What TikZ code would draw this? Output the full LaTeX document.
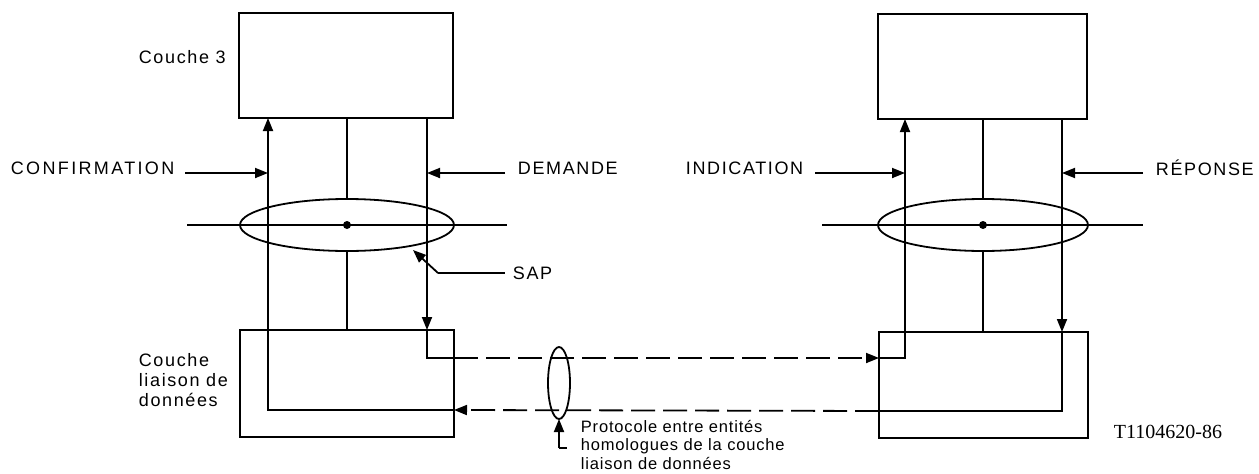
\documentclass[tikz,border=0pt]{standalone}
\usepackage{fontspec}
\setmainfont{Liberation Sans}
\newfontfamily\labfont[LetterSpace=9]{Liberation Sans}
\newfontfamily\wideflabfont[LetterSpace=13]{Liberation Sans}
\newfontfamily\smallfont[LetterSpace=5]{Liberation Sans}
\newfontfamily\reffont{Liberation Serif}
\usetikzlibrary{arrows.meta,shapes.geometric}
\begin{document}
\begin{tikzpicture}[x=1pt,y=-1pt,
  line width=1.8pt,
  box/.style={draw,rectangle,inner sep=0pt,outer sep=0pt},
  sap/.style={draw,ellipse,inner sep=0pt,outer sep=0pt},
  lab/.style={font=\labfont\fontsize{18}{20}\selectfont,inner sep=0pt},
  arr/.style={-{Triangle[length=13pt,width=10pt]}},
  dsh/.style={dash pattern=on 24pt off 8pt}]
\useasboundingbox (0,0) rectangle (1259,474);
% boxes
\node[box,minimum width=214pt,minimum height=105pt] (L3A) at (346,65.5) {};
\node[box,minimum width=214pt,minimum height=107pt] (L2A) at (347,383.5) {};
\node[box,minimum width=209pt,minimum height=105pt] (L3B) at (982.5,66.5) {};
\node[box,minimum width=209pt,minimum height=106pt] (L2B) at (983.5,385) {};
% SAP ellipses
\node[sap,minimum width=214pt,minimum height=52pt] (SA) at (347,225) {};
\node[sap,minimum width=210pt,minimum height=52pt] (SB) at (983,225) {};
\node[sap,minimum width=22pt,minimum height=72pt] (PR) at (559,383) {};
\fill (SA.center) circle (4pt);
\fill (SB.center) circle (4pt);
% horizontal lines through SAP
\coordinate (hA1) at (187,225); \coordinate (hA2) at (507,225);
\coordinate (hB1) at (822,225); \coordinate (hB2) at (1143,225);
\draw (hA1) -- (hA2);
\draw (hB1) -- (hB2);
% middle lines
\draw (SA.north) -- (SA.north |- L3A.south);
\draw (SA.south) -- (SA.south |- L2A.north);
\draw (SB.north) -- (SB.north |- L3B.south);
\draw (SB.south) -- (SB.south |- L2B.north);
% left side paths
\coordinate (a1) at (268,410);
\coordinate (a3) at (427,358);
\draw[arr] (L2A.east |- a1) -- (a1) -- (a1 |- L3A.south);
\draw[arr] (a3 |- L3A.south) -- (a3 |- L2A.north);
\draw (a3 |- L2A.north) -- (a3) -- (L2A.east |- a3);
% right side paths
\coordinate (b1) at (905,358);
\coordinate (b3) at (1062,411);
\draw[arr] (L2B.west |- b1) -- (b1) -- (b1 |- L3B.south);
\draw[arr] (b3 |- L3B.south) -- (b3 |- L2B.north);
\draw (b3 |- L2B.north) -- (b3) -- (L2B.west |- b3);
% dashed protocol lines
\draw[arr,dsh] (L2A.east |- a3) -- (L2B.west |- b1);
\draw[arr,dsh] (L2B.west |- b3) -- (L2A.east |- a1);
% primitive arrows
\coordinate (cf) at (185,173); \coordinate (dm) at (505,173);
\coordinate (in) at (815,173); \coordinate (rp) at (1143,173);
\draw[arr] (cf) -- (a1 |- cf);
\draw[arr] (dm) -- (a3 |- dm);
\draw[arr] (in) -- (b1 |- in);
\draw[arr] (rp) -- (b3 |- rp);
% labels
\node[lab,anchor=west,font=\wideflabfont\fontsize{18}{20}\selectfont] (tcf) at (10,168) {CONFIRMATION};
\node[lab,anchor=west] (tdm) at (517,168) {DEMANDE};
\node[lab,anchor=west] (tin) at (685,168) {INDICATION};
\node[lab,anchor=west] (trp) at (1155,168) {RÉPONSE};
\node[lab,anchor=west] (tc3) at (138,57) {Couche 3};
\node[lab,anchor=west,align=left] (tc2) at (138,380) {Couche\\liaison de\\données};
% SAP pointer
\coordinate (sp) at (438,273);
\draw[arr] (sp) -- (413,250);
\draw (sp) -- (505,273);
\node[lab,anchor=west] (tsap) at (512,273) {SAP};
% protocol pointer
\coordinate (pp) at (559,448);
\draw[arr] (pp) -- (PR.south);
\draw (pp) -- (567,448);
\node[anchor=west,align=left,inner sep=0pt,font=\smallfont\fontsize{16.5}{18.5}\selectfont] (tpr) at (580,445) {Protocole entre entités\\homologues de la couche\\liaison de données};
\node[anchor=west,inner sep=0pt,font=\reffont\fontsize{20}{22}\selectfont] (tref) at (1113,432) {T1104620-86};
\end{tikzpicture}
\end{document}
